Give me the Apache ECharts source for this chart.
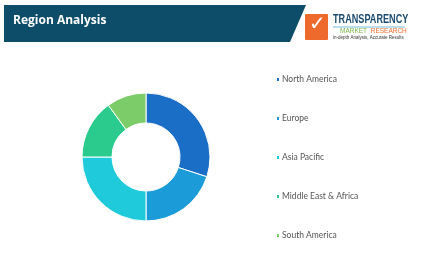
<!DOCTYPE html>
<html>
<head>
<meta charset="utf-8">
<script src="https://cdn.jsdelivr.net/npm/echarts@6/dist/echarts.min.js"></script>
<style>
html,body{margin:0;padding:0;background:#fff;}
#c{width:429px;height:273px;}
</style>
</head>
<body>
<div id="c"></div>
<script>
var categories = ['North America', 'Europe', 'Asia Pacific', 'Middle East & Africa', 'South America'];
var shares = [30, 20, 25, 15, 10];
var colors = ['#1b6ec6', '#1b9bd7', '#1fcbdb', '#2bcb8e', '#7ccc69'];

var chart = echarts.init(document.getElementById('c'), null, {renderer: 'canvas'});
chart.setOption({
  animation: false,
  color: colors,
  legend: {
    orient: 'vertical',
    left: 270,
    top: 70,
    itemWidth: 4,
    itemHeight: 5,
    itemGap: 30,
    icon: 'rect',
    textStyle: {fontSize: 8.5, color: '#555', fontFamily: 'Lato', padding: [0,0,0,-3]},
    data: categories
  },
  graphic: [
    {type: 'polygon', shape: {points: [[4,5],[306,5],[290,42],[4,42]]}, style: {fill: '#0e4d69'}},
    {type: 'text', left: 13, top: 15, style: {text: 'Region Analysis', fill: '#fff', font: 'bold 12px "Open Sans"'}},
    {type: 'rect', shape: {x: 305, y: 14, width: 23, height: 26, r: 1}, style: {fill: '#ee6a2c'}},
    {type: 'text', x: 309, y: 15, style: {text: '\u2713', fill: '#fff', font: 'bold 20px "DejaVu Sans"'}},
    {type: 'text', x: 333, y: 14, scaleX: 0.76, style: {text: 'TRANSPARENCY', fill: '#1a4a6e', font: 'bold 12px "Liberation Sans"'}},
    {type: 'line', shape: {x1: 333, y1: 27, x2: 405, y2: 27}, style: {stroke: '#3aa0c8', lineWidth: 0.7}},
    {type: 'text', x: 340, y: 28, style: {text: '{a|MARKET}  {b|RESEARCH}', font: '6.5px "Liberation Sans"',
      rich: {a: {fill: '#7ab648', font: '6.5px "Liberation Sans"'}, b: {fill: '#ee6a2c', font: '6.5px "Liberation Sans"'}}}},
    {type: 'text', x: 333, y: 35.5, style: {text: 'in-depth Analysis, Accurate Results', fill: '#333', font: '4.5px "Liberation Sans"'}}
  ],
  series: [{
    type: 'pie',
    center: [146, 157],
    radius: [34, 64],
    startAngle: 90,
    clockwise: true,
    label: {show: false},
    labelLine: {show: false},
    itemStyle: {borderColor: '#fff', borderWidth: 1},
    data: categories.map(function (c, i) { return {name: c, value: shares[i]}; })
  }]
});
</script>
</body>
</html>
